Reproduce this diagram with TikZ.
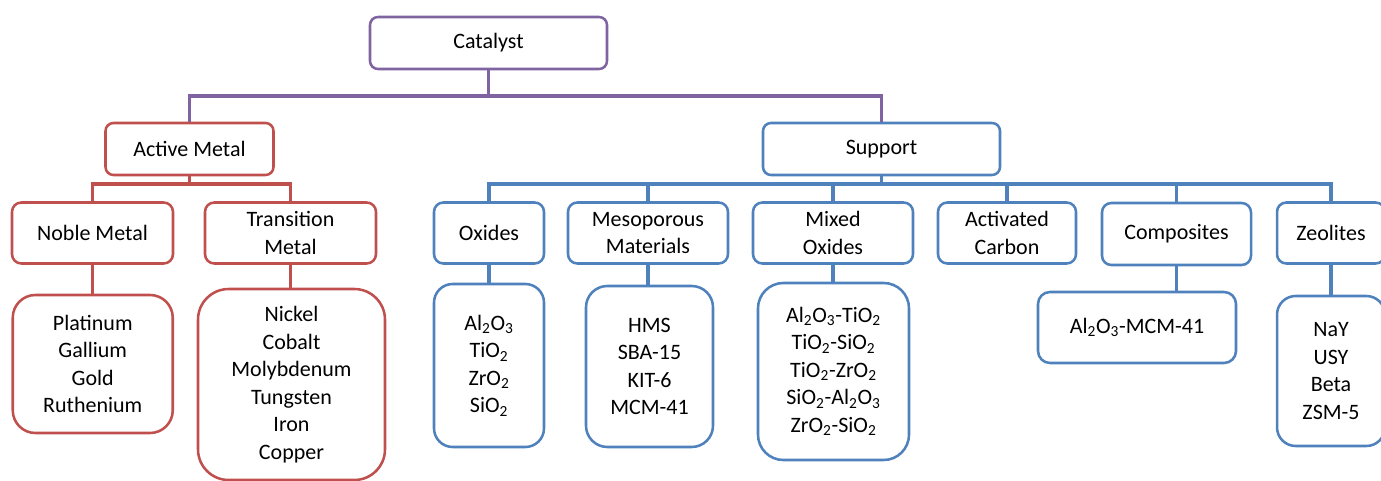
\documentclass[tikz,border=0pt]{standalone}
\usepackage{fontspec}
\setmainfont{Carlito}
\definecolor{cpurple}{RGB}{128,100,162}
\definecolor{cred}{RGB}{192,80,77}
\definecolor{cblue}{RGB}{79,129,189}
\tikzset{
  box/.style={draw, fill=white, line width=1.9pt, rectangle, align=center, inner sep=0pt,
    font=\fontsize{16.5}{20.6}\selectfont},
  pbox/.style={box, draw=cpurple},
  rbox/.style={box, draw=cred},
  bbox/.style={box, draw=cblue},
  pline/.style={draw=cpurple, line width=2.6pt},
  rline/.style={draw=cred, line width=2.6pt},
  bline/.style={draw=cblue, line width=2.6pt},
}
\begin{document}
\begin{tikzpicture}[x=0.75pt,y=-0.75pt]
\useasboundingbox (0,0) rectangle (1381,481);
\coordinate (pbus) at (488,96);
\coordinate (rbus) at (190,184);
\coordinate (bbus) at (882,184);

% top level
\node[pbox, minimum width=237*0.75pt, minimum height=52*0.75pt, rounded corners=6pt] (cat) at (488.5,43) {Catalyst};
\node[rbox, minimum width=168*0.75pt, minimum height=52*0.75pt, rounded corners=6pt] (am) at (189.5,149) {Active Metal};
\node[bbox, minimum width=237*0.75pt, minimum height=52*0.75pt, rounded corners=6pt] (sup) at (881.5,149) {Support};

% second level
\node[rbox, minimum width=161*0.75pt, minimum height=61*0.75pt, rounded corners=7pt] (nm) at (92.5,233) {Noble Metal};
\node[rbox, minimum width=171*0.75pt, minimum height=61*0.75pt, rounded corners=7pt] (tm) at (290.5,233) {Transition\\Metal};
\node[bbox, minimum width=110*0.75pt, minimum height=61*0.75pt, rounded corners=7pt] (ox) at (489,233) {Oxides};
\node[bbox, minimum width=160*0.75pt, minimum height=61*0.75pt, rounded corners=7pt] (meso) at (648,233) {Mesoporous\\Materials};
\node[bbox, minimum width=160*0.75pt, minimum height=61*0.75pt, rounded corners=7pt] (mix) at (833,233) {Mixed\\Oxides};
\node[bbox, minimum width=138*0.75pt, minimum height=61*0.75pt, rounded corners=7pt] (act) at (1007,233) {Activated\\Carbon};
\node[bbox, minimum width=149*0.75pt, minimum height=62*0.75pt, rounded corners=7pt] (comp) at (1176.5,234) {Composites};
\node[bbox, minimum width=108*0.75pt, minimum height=61*0.75pt, rounded corners=7pt] (zeo) at (1331,233) {Zeolites};

% leaves
\node[rbox, minimum width=160*0.75pt, minimum height=138*0.75pt, rounded corners=17pt] (nl) at (92.75,364) {Platinum\\Gallium\\Gold\\Ruthenium};
\node[rbox, minimum width=187*0.75pt, minimum height=191*0.75pt, rounded corners=23pt] (tl) at (291.5,384.5) {Nickel\\Cobalt\\Molybdenum\\Tungsten\\Iron\\Copper};
\node[bbox, minimum width=110*0.75pt, minimum height=163*0.75pt, rounded corners=14pt] (oxl) at (489,365.5) {Al\textsubscript{2}O\textsubscript{3}\\TiO\textsubscript{2}\\ZrO\textsubscript{2}\\SiO\textsubscript{2}};
\node[bbox, minimum width=127*0.75pt, minimum height=161*0.75pt, rounded corners=16pt] (mesol) at (649.5,366.5) {HMS\\SBA-15\\KIT-6\\MCM-41};
\node[bbox, minimum width=151*0.75pt, minimum height=177*0.75pt, rounded corners=19pt] (mixl) at (833.5,371.5) {Al\textsubscript{2}O\textsubscript{3}-TiO\textsubscript{2}\\TiO\textsubscript{2}-SiO\textsubscript{2}\\TiO\textsubscript{2}-ZrO\textsubscript{2}\\SiO\textsubscript{2}-Al\textsubscript{2}O\textsubscript{3}\\ZrO\textsubscript{2}-SiO\textsubscript{2}};
\node[bbox, minimum width=198*0.75pt, minimum height=71*0.75pt, rounded corners=9pt] (compl) at (1137,327.5) {Al\textsubscript{2}O\textsubscript{3}-MCM-41};
\node[bbox, minimum width=108*0.75pt, minimum height=150*0.75pt, rounded corners=14pt] (zeol) at (1331,371) {NaY\\USY\\Beta\\ZSM-5};

% purple connectors
\path[pline] (cat.south) -- (cat.south |- pbus);
\path[pline] (am.north) -- (am.north |- pbus) -- (sup.north |- pbus) -- (sup.north);
% red connectors
\path[rline] (am.south) -- (am.south |- rbus);
\path[rline] (nm.north) -- (nm.north |- rbus) -- (tm.north |- rbus) -- (tm.north);
\path[rline] (nm.south) -- (nm.south |- nl.north);
\path[rline] (tm.south) -- (tm.south |- tl.north);
% blue connectors
\path[bline] (sup.south) -- (sup.south |- bbus);
\path[bline] (ox.north) -- (ox.north |- bbus) -- (zeo.north |- bbus) -- (zeo.north);
\path[bline] (meso.north) -- (meso.north |- bbus);
\path[bline] (mix.north) -- (mix.north |- bbus);
\path[bline] (act.north) -- (act.north |- bbus);
\path[bline] (comp.north) -- (comp.north |- bbus);
\path[bline] (ox.south) -- (ox.south |- oxl.north);
\path[bline] (meso.south) -- (meso.south |- mesol.north);
\path[bline] (mix.south) -- (mix.south |- mixl.north);
\path[bline] (comp.south) -- (comp.south |- compl.north);
\path[bline] (zeo.south) -- (zeo.south |- zeol.north);
\end{tikzpicture}
\end{document}
